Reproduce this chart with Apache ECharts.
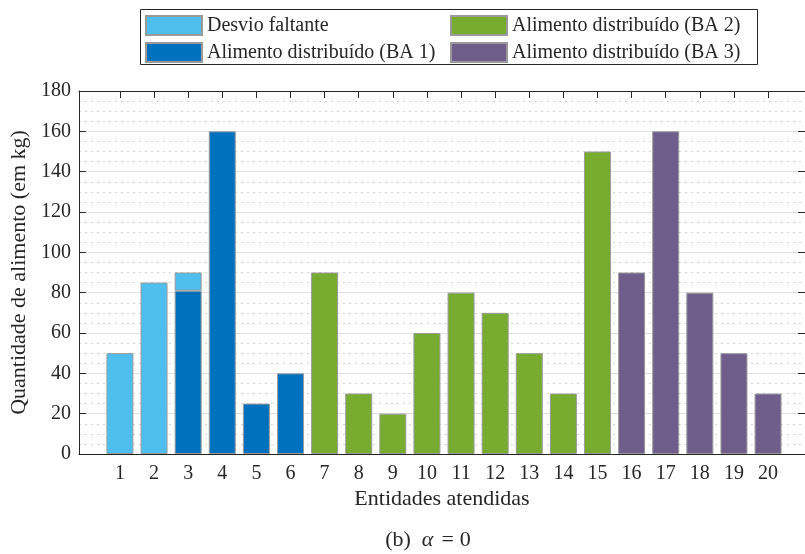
<!DOCTYPE html>
<html>
<head>
<meta charset="utf-8">
<script src="https://cdn.jsdelivr.net/npm/echarts@6/dist/echarts.min.js"></script>
<style>html,body{margin:0;padding:0;background:#fff;}#c{width:805px;height:554px;}</style>
</head>
<body>
<div id="c"></div>
<script>
// ---- data ----
const categories = ['1','2','3','4','5','6','7','8','9','10','11','12','13','14','15','16','17','18','19','20'];
const desvioFaltante = [50,85,9,null,null,null,null,null,null,null,null,null,null,null,null,null,null,null,null,null];
const ba1 = [null,null,81,160,25,40,null,null,null,null,null,null,null,null,null,null,null,null,null,null];
const ba2 = [null,null,null,null,null,null,90,30,20,60,80,70,50,30,150,null,null,null,null,null];
const ba3 = [null,null,null,null,null,null,null,null,null,null,null,null,null,null,null,90,160,80,50,30];
const names = ['Desvio faltante','Alimento distribuído (BA 1)','Alimento distribuído (BA 2)','Alimento distribuído (BA 3)'];

const FONT = 'Liberation Serif';
const TXT = '#262626';
function toData(arr){ return arr.map(v => v == null ? '-' : v); }

const chart = echarts.init(document.getElementById('c'), null, {renderer:'canvas'});
const barBase = {type:'bar', stack:'total', barWidth:27, xAxisIndex:2, yAxisIndex:2,
  itemStyle:{borderColor:'#9a9a9a', borderWidth:1}};

// frame grid: 79..809 (x from -0.2 to 21.2); bar grid: bands of equal width centred on 1..20
const PX_PER_UNIT = 730 / 21.4;
const barLeft = 79 + 0.7 * PX_PER_UNIT;
const barWidthPx = 20 * PX_PER_UNIT;

chart.setOption({
  animation:false,
  backgroundColor:'#fff',
  textStyle:{fontFamily:FONT},
  grid:[
    {left:79, top:91, width:730, height:363, containLabel:false},
    {left:barLeft, top:91, width:barWidthPx, height:363, containLabel:false}
  ],
  legend:[
    {left:145, top:15, orient:'vertical', padding:0, itemWidth:56, itemHeight:19, itemGap:6,
     icon:'rect', data:[names[0], names[1]], textStyle:{fontFamily:FONT, fontSize:20, color:TXT}},
    {left:450, top:15, orient:'vertical', padding:0, itemWidth:56, itemHeight:19, itemGap:6,
     icon:'rect', data:[names[2], names[3]], textStyle:{fontFamily:FONT, fontSize:20, color:TXT}}
  ],
  graphic:[
    {type:'rect', z:-1, shape:{x:140.5, y:9.5, width:617, height:55}, style:{fill:'#fff', stroke:'#262626', lineWidth:1}},
    {type:'text', x:428, y:540, style:{
      text:'{a|(b)}{i|α}{eq|=}{n|0}', align:'center', verticalAlign:'middle',
      rich:{
        a:{fontFamily:FONT, fontSize:22, fill:TXT, padding:[0,11,0,0]},
        i:{fontFamily:FONT, fontSize:22, fontStyle:'italic', fill:TXT, padding:[0,8,0,0]},
        eq:{fontFamily:FONT, fontSize:22, fill:TXT, padding:[0,6,0,0]},
        n:{fontFamily:FONT, fontSize:22, fill:TXT}
      }
    }}
  ],
  xAxis:[
    {gridIndex:0, type:'value', min:-0.2, max:21.2, position:'bottom',
     name:'Entidades atendidas', nameLocation:'middle', nameGap:34,
     nameTextStyle:{fontFamily:FONT, fontSize:22, color:TXT},
     axisLine:{show:true, onZero:false, lineStyle:{color:TXT}},
     axisTick:{show:false}, axisLabel:{show:false}, splitLine:{show:false}},
    {gridIndex:0, type:'value', min:-0.2, max:21.2, position:'top',
     axisLine:{show:true, onZero:false, lineStyle:{color:TXT}},
     axisTick:{show:false}, axisLabel:{show:false}, splitLine:{show:false}},
    {gridIndex:1, type:'category', data:categories, position:'bottom',
     axisLine:{show:false},
     axisTick:{show:true, inside:true, length:7, alignWithLabel:true, lineStyle:{color:TXT}},
     axisLabel:{show:true, margin:10, fontFamily:FONT, fontSize:20, color:TXT},
     splitLine:{show:false}},
    {gridIndex:1, type:'category', data:categories, position:'top',
     axisLine:{show:false},
     axisTick:{show:true, inside:true, length:7, alignWithLabel:true, lineStyle:{color:TXT}},
     axisLabel:{show:false}, splitLine:{show:false}}
  ],
  yAxis:[
    {gridIndex:0, type:'value', min:0, max:180, interval:20, position:'left',
     name:'Quantidade de alimento (em kg)', nameLocation:'middle', nameGap:36,
     nameTextStyle:{fontFamily:FONT, fontSize:22, color:TXT},
     axisLine:{show:true, onZero:false, lineStyle:{color:TXT}},
     axisTick:{show:true, inside:true, length:7, lineStyle:{color:TXT}},
     minorTick:{show:true, splitNumber:4, length:0, lineStyle:{color:'rgba(0,0,0,0)'}},
     minorSplitLine:{show:true, lineStyle:{color:'#d4d4d4', type:[2,4], width:1}},
     splitLine:{show:true, lineStyle:{color:'#e0e0e0', width:1}},
     axisLabel:{margin:8, fontFamily:FONT, fontSize:20, color:TXT}
    },
    {gridIndex:0, type:'value', min:0, max:180, interval:20, position:'right',
     axisLine:{show:true, onZero:false, lineStyle:{color:TXT}},
     axisTick:{show:true, inside:true, length:7, lineStyle:{color:TXT}},
     splitLine:{show:false}, axisLabel:{show:false}
    },
    {gridIndex:1, type:'value', min:0, max:180, interval:20, show:false}
  ],
  series:[
    Object.assign({}, barBase, {name:names[1], color:'#0072BD', data:toData(ba1)}),
    Object.assign({}, barBase, {name:names[0], color:'#4DBEEE', data:toData(desvioFaltante)}),
    Object.assign({}, barBase, {name:names[2], color:'#77AC30', data:toData(ba2)}),
    Object.assign({}, barBase, {name:names[3], color:'#6F5E8C', data:toData(ba3)})
  ]
});
</script>
</body>
</html>
